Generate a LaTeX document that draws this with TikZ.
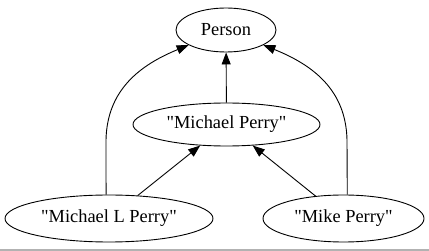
\documentclass[tikz,border=0pt]{standalone}
\usepackage{fontspec}
\setmainfont{Liberation Serif}[Ligatures=TeXOff]
\usetikzlibrary{arrows.meta,shapes.geometric}
\begin{document}
\begin{tikzpicture}[x=1pt,y=-1pt,
  every node/.style={font=\fontsize{18.4}{22}\selectfont},
  oval/.style={draw, ellipse, line width=0.9pt, inner sep=0pt, minimum width=#1},
  edge/.style={line width=0.9pt, -{Triangle[length=12pt,width=9pt]}},
]
\useasboundingbox (0,0) rectangle (429,251);
\fill[white] (0,0) rectangle (429,251);

\node[oval=100pt, minimum height=44pt] (person) at (226,30) {Person};
\node[oval=187pt, minimum height=43pt] (mp) at (226.5,124.5) {"Michael Perry"};
\node[oval=208pt, minimum height=47pt] (mlp) at (109,218.5) {"Michael L Perry"};
\node[oval=161pt, minimum height=47pt] (mike) at (343.5,218.5) {"Mike Perry"};

\draw[edge] (mp) -- (person);
\draw[edge] (mlp) -- (mp);
\draw[edge] (mike) -- (mp);
\draw[edge] (mlp.97) -- (106,140) .. controls (107,90) and (140,65) .. (person.202);
\draw[edge] (mike.81) -- (347,140) .. controls (346,90) and (313,65) .. (person.338);

\draw[gray!60, line width=2pt] (0,250) -- (429,250);
\end{tikzpicture}
\end{document}
